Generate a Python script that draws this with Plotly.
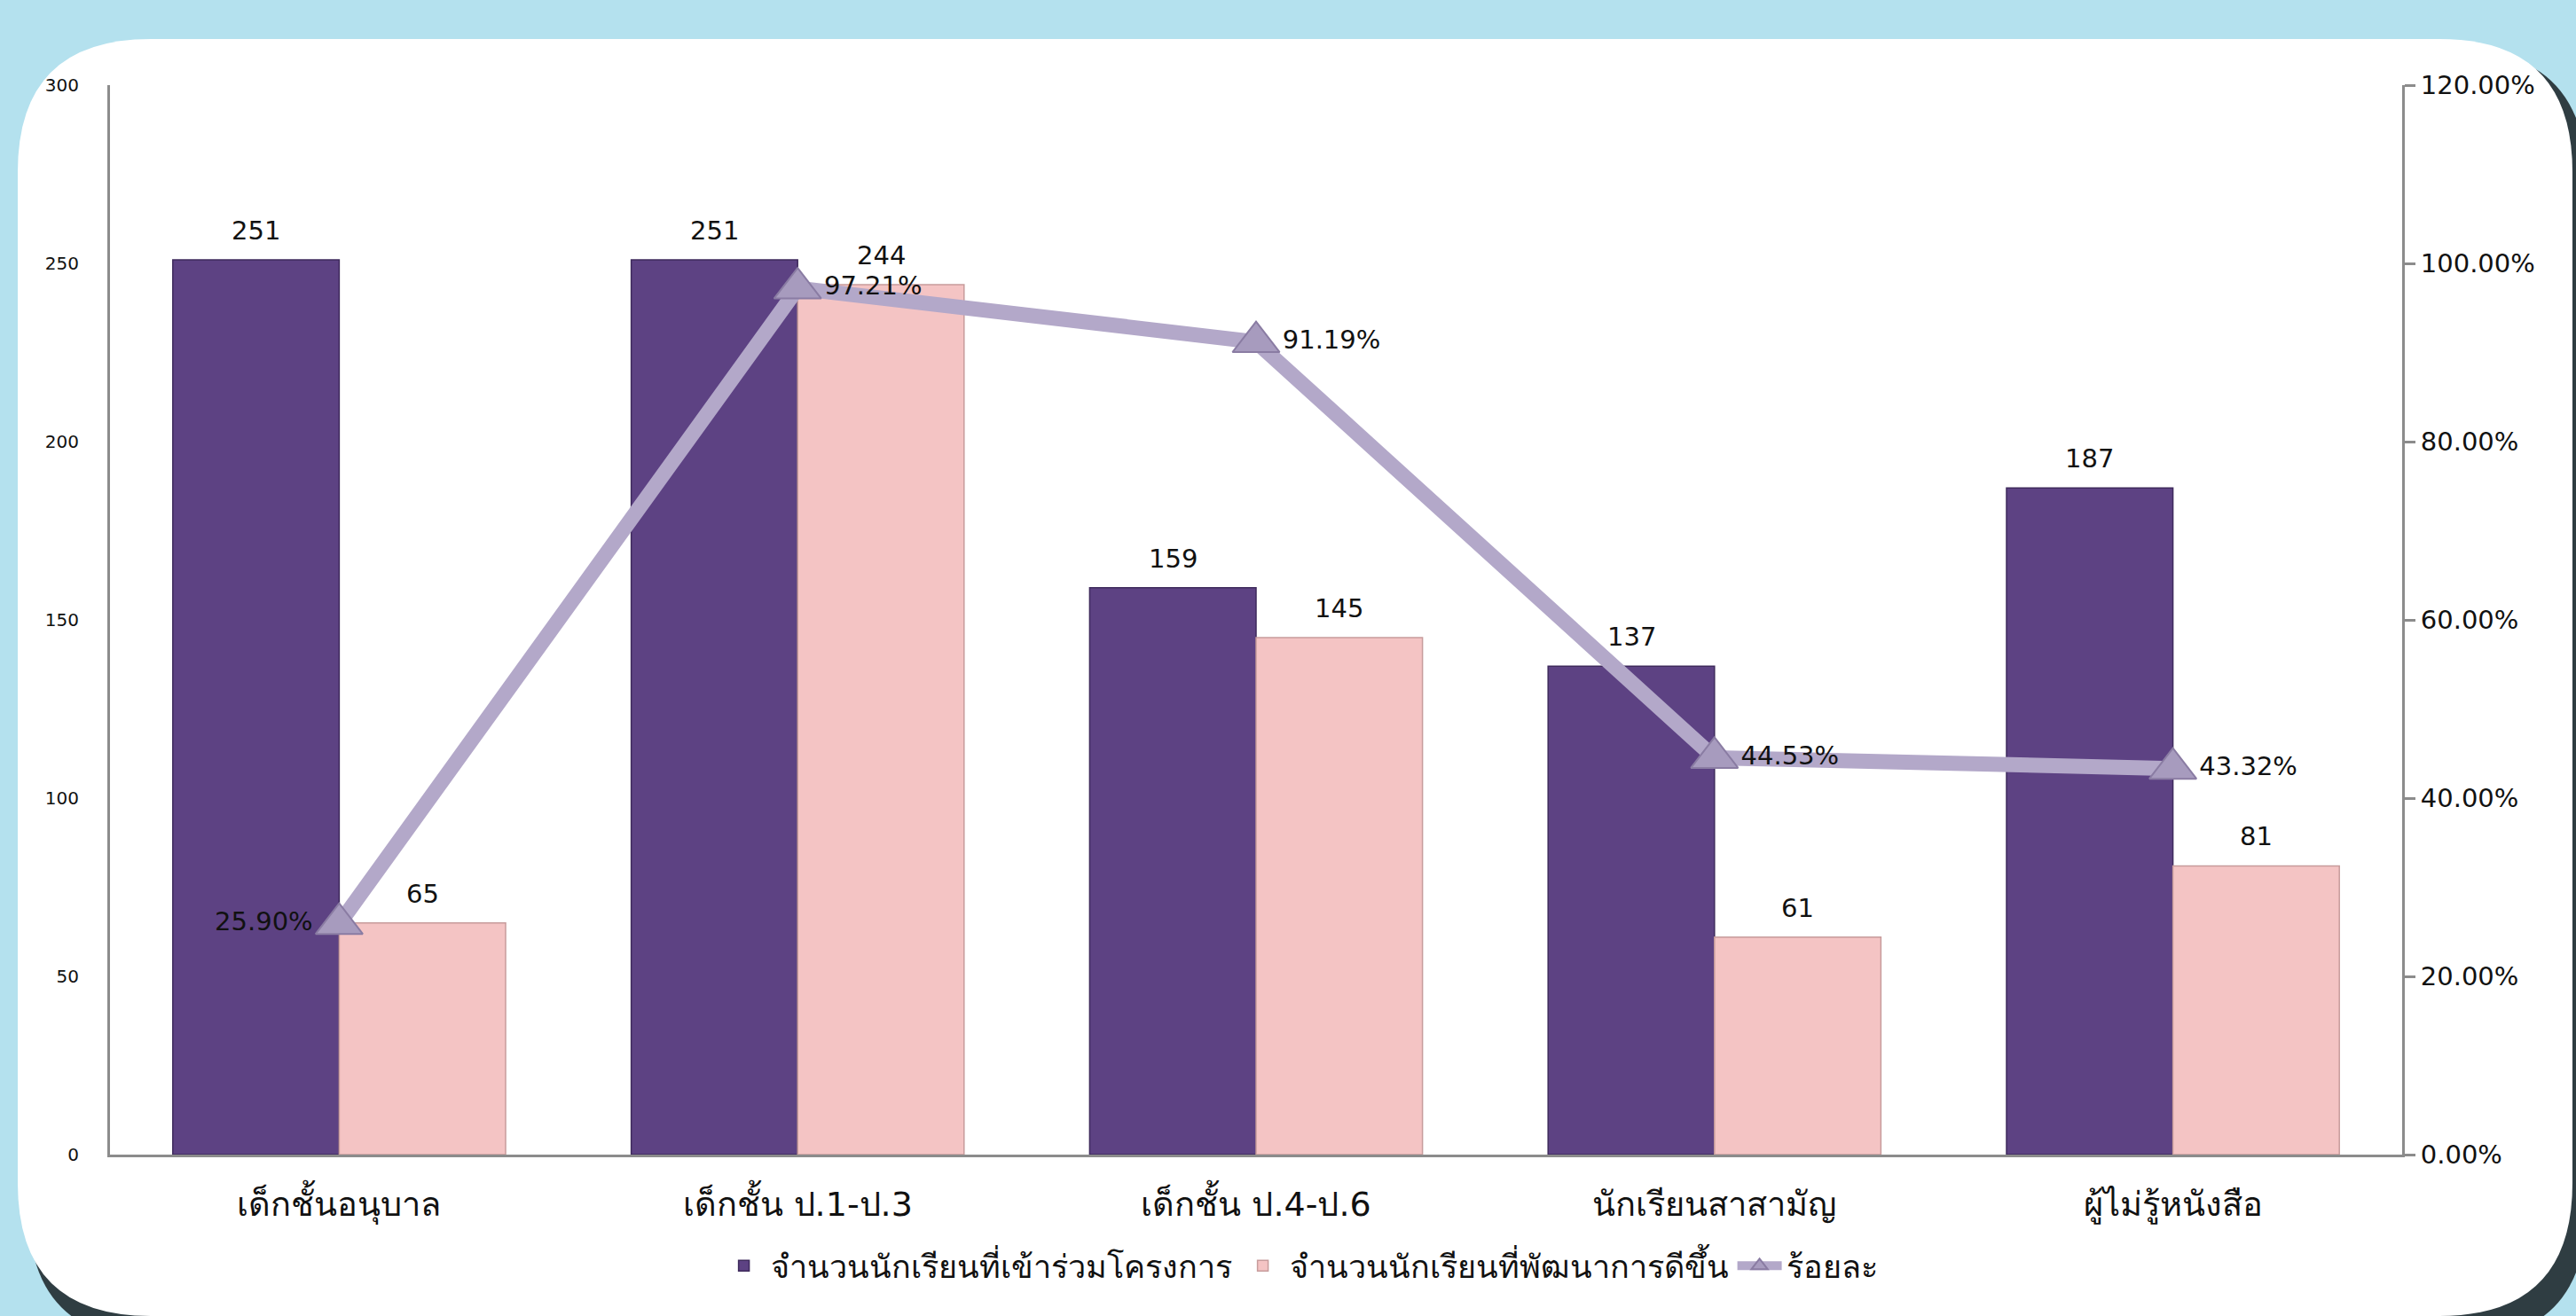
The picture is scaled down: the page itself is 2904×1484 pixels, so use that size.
import plotly.graph_objects as go

categories = ["เด็กชั้นอนุบาล", "เด็กชั้น ป.1-ป.3", "เด็กชั้น ป.4-ป.6", "นักเรียนสาสามัญ", "ผู้ไม่รู้หนังสือ"]
joined = [251, 251, 159, 137, 187]
improved = [65, 244, 145, 61, 81]
percent = [0.2590, 0.9721, 0.9119, 0.4453, 0.4332]
percent_labels = ["25.90%", "97.21%", "91.19%", "44.53%", "43.32%"]
left_ticks = [0, 50, 100, 150, 200, 250, 300]
right_ticks = [0, 0.2, 0.4, 0.6, 0.8, 1.0, 1.2]

series_names = ["จำนวนนักเรียนที่เข้าร่วมโครงการ", "จำนวนนักเรียนที่พัฒนาการดีขึ้น", "ร้อยละ"]

W, H = 2904, 1484
L, R, T, B = 124, 2708, 96, 1302
BARGAP = 0.274
BAR_OFFSET = (1 - BARGAP) / 4  # centre of each bar from category centre, in category units

FONT = "Tahoma, 'DejaVu Sans', 'Noto Sans', sans-serif"


def px(x):
    return (x - L) / (R - L)


def py(y):
    return (B - y) / (B - T)


def rounded_path(x0, y0, x1, y1, r):
    pts = [
        ("M", [(x0 + r, y0)]),
        ("L", [(x1 - r, y0)]),
        ("Q", [(x1, y0), (x1, y0 + r)]),
        ("L", [(x1, y1 - r)]),
        ("Q", [(x1, y1), (x1 - r, y1)]),
        ("L", [(x0 + r, y1)]),
        ("Q", [(x0, y1), (x0, y1 - r)]),
        ("L", [(x0, y0 + r)]),
        ("Q", [(x0, y0), (x0 + r, y0)]),
    ]
    s = ""
    for cmd, ps in pts:
        s += cmd + " " + " ".join(f"{px(a):.5f},{py(b):.5f}" for a, b in ps) + " "
    return s + "Z"


fig = go.Figure()

fig.add_trace(go.Bar(
    x=categories, y=joined, name=series_names[0],
    marker=dict(color="#5D4283", line=dict(color="#3E2A5C", width=1.5)),
))
fig.add_trace(go.Bar(
    x=categories, y=improved, name=series_names[1],
    marker=dict(color="#F4C4C4", line=dict(color="#C79C9C", width=1.5)),
))
fig.add_trace(go.Scatter(
    x=categories, y=percent, name=series_names[2], yaxis="y2",
    mode="lines+markers+text",
    line=dict(color="#B3A8C9", width=17),
    marker=dict(symbol="triangle-up", size=46, color="#A79BBE",
                line=dict(color="#8A7CA3", width=2)),
    text=percent_labels,
    textposition=["middle left", "middle right", "middle right", "middle right", "middle right"],
    textfont=dict(size=29, color="#111111", family=FONT),
    cliponaxis=False,
))

annotations = []
for i, v in enumerate(joined):
    annotations.append(dict(x=i - BAR_OFFSET, y=v, xref="x", yref="y", text=str(v),
                            showarrow=False, yanchor="bottom", yshift=14,
                            font=dict(size=29, color="#111111", family=FONT)))
for i, v in enumerate(improved):
    annotations.append(dict(x=i + BAR_OFFSET, y=v, xref="x", yref="y", text=str(v),
                            showarrow=False, yanchor="bottom", yshift=14,
                            font=dict(size=29, color="#111111", family=FONT)))

shapes = [
    dict(type="path", xref="paper", yref="paper", layer="below",
         path=rounded_path(32, 56, 2916, 1512, 150),
         fillcolor="#2F3D42", line=dict(width=0)),
    dict(type="path", xref="paper", yref="paper", layer="below",
         path=rounded_path(20, 44, 2900, 1484, 150),
         fillcolor="#FFFFFF", line=dict(width=0)),
]

fig.update_layout(
    width=W, height=H,
    margin=dict(l=L, r=W - R, t=T, b=H - B),
    paper_bgcolor="#B4E1EE",
    plot_bgcolor="rgba(0,0,0,0)",
    barmode="group",
    bargap=BARGAP,
    bargroupgap=0,
    font=dict(family=FONT, color="#111111"),
    shapes=shapes,
    annotations=annotations,
    showlegend=True,
    legend=dict(orientation="h", x=0.519, y=-0.104, xanchor="center", yanchor="middle",
                font=dict(size=36, family=FONT, color="#111111"),
                bgcolor="rgba(0,0,0,0)", itemwidth=50, traceorder="normal"),
    xaxis=dict(
        showline=True, linecolor="#8C8C8C", linewidth=3,
        ticks="outside", ticklen=20, tickcolor="rgba(0,0,0,0)",
        tickfont=dict(size=38, family=FONT, color="#111111"),
        showgrid=False, zeroline=False,
    ),
    yaxis=dict(
        range=[0, 300], tickvals=left_ticks,
        showline=True, linecolor="#8C8C8C", linewidth=3,
        ticks="outside", ticklen=28, tickcolor="rgba(0,0,0,0)",
        tickfont=dict(size=20, family=FONT, color="#111111"),
        showgrid=False, zeroline=False,
    ),
    yaxis2=dict(
        overlaying="y", side="right", range=[0, 1.2], tickvals=right_ticks,
        tickformat=".2%",
        showline=True, linecolor="#8C8C8C", linewidth=3,
        ticks="outside", ticklen=12, tickcolor="#8C8C8C", tickwidth=3,
        tickfont=dict(size=29, family=FONT, color="#111111"),
        showgrid=False, zeroline=False,
    ),
)

fig.write_html(
    "out.html",
    config={"displayModeBar": False},
    post_script="document.body.style.margin='0';document.body.style.background='#B4E1EE';",
)
